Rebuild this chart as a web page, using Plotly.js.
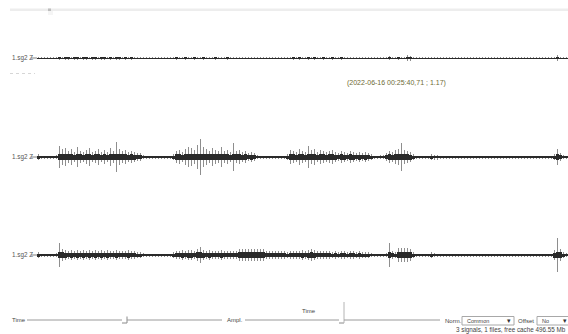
<!DOCTYPE html>
<html>
<head>
<meta charset="utf-8">
<script src="https://cdn.plot.ly/plotly-3.0.1.min.js"></script>
<style>
  html, body { margin: 0; padding: 0; background: #ffffff; }
  #plot { width: 568px; height: 334px; }
</style>
</head>
<body>
<div id="plot"></div>
<script>
// Station / channel names
const channelLabels = ['1.sg2 Z', '1.sg2 Z', '1.sg2 Z'];

// Peak amplitude envelope per time bin (bin = 1/177 of the window), one array per channel
const ampCh1 = [
  1, 0.6, 0.6, 0.6, 0.6, 0.6, 1, 1.5, 1, 1.5,
  1.5, 1, 1.5, 1.5, 1, 1.5, 1.5, 1, 1.5, 1.5,
  1, 1.5, 1.5, 1, 1.5, 1, 1.5, 1.5, 1, 1.5,
  1, 1.5, 1, 1, 1, 0.6, 0.6, 0.6, 0.6, 0.6,
  0.6, 0.6, 0.6, 0.6, 0.6, 1, 1.5, 1, 1, 1.5,
  1, 1, 1.5, 1, 1, 1.5, 1, 1, 1, 1.5,
  1, 1, 1, 1.5, 1, 1, 1, 1, 1, 1,
  1, 0.6, 0.6, 0.6, 0.6, 0.6, 0.6, 0.6, 0.6, 0.6,
  0.6, 0.6, 0.6, 0.6, 1, 1.5, 1, 1.5, 1, 1,
  1.5, 1, 1.5, 1, 1, 1.5, 1, 1, 1.5, 1,
  1, 1.5, 1, 1, 1, 1, 1, 1, 1, 1,
  1, 0.6, 0.6, 0.6, 0.6, 0.6, 1, 2, 1, 1,
  1.5, 1, 1, 3, 2.5, 1, 0.6, 0.6, 0.6, 0.6,
  0.6, 1, 0.6, 0.6, 0.6, 0.6, 0.6, 0.6, 0.6, 0.6,
  0.6, 0.6, 1, 0.6, 0.6, 0.6, 0.6, 1, 0.6, 0.6,
  0.6, 0.6, 0.6, 1, 0.6, 0.6, 0.6, 0.6, 1, 0.6,
  0.6, 0.6, 0.6, 0.6, 1, 0.6, 0.6, 0.6, 0.6, 0.6,
  0.6, 0.6, 1, 3, 1, 0.6, 0.6
];

const ampCh2 = [
  3, 1.5, 1.5, 1.5, 1.5, 1.5, 2, 11, 8, 9,
  6, 8, 5, 10, 6, 5, 7, 9, 5, 6,
  8, 5, 7, 5, 9, 6, 15, 8, 6, 7,
  5, 6, 5, 4, 4, 2, 1.5, 1.5, 1.5, 1.5,
  1.5, 1.5, 1.5, 1.5, 1.5, 3, 6, 7, 5, 8,
  10, 9, 7, 12, 18, 10, 8, 6, 9, 7,
  6, 10, 6, 7, 5, 14, 6, 7, 5, 6,
  4, 5, 4, 2, 1.5, 1.5, 1.5, 1.5, 1.5, 1.5,
  1.5, 1.5, 1.5, 3, 7, 6, 5, 8, 6, 5,
  11, 7, 8, 5, 7, 6, 5, 6, 7, 5,
  4, 6, 5, 4, 6, 5, 4, 5, 4, 5,
  4, 3, 1.5, 1.5, 2, 2, 4, 6, 5, 7,
  8, 14, 7, 6, 5, 3, 1.5, 1.5, 1.5, 1.5,
  1.5, 3, 2.5, 2.5, 1.5, 1.5, 1.5, 1.5, 1.5, 1.5,
  1.5, 1.5, 1.5, 1.5, 1.5, 1.5, 1.5, 1.5, 1.5, 1.5,
  1.5, 1.5, 1.5, 1.5, 1.5, 1.5, 1.5, 1.5, 1.5, 1.5,
  1.5, 1.5, 1.5, 1.5, 1.5, 1.5, 1.5, 1.5, 1.5, 1.5,
  1.5, 1.5, 3, 8, 4, 2, 1.5
];

const ampCh3 = [
  3, 1.5, 1.5, 1.5, 1.5, 1.5, 2, 12, 6, 5,
  4, 5, 4, 5, 4, 5, 4, 5, 4, 5,
  4, 5, 4, 5, 4, 4, 5, 4, 4, 4,
  5, 4, 4, 3, 3, 2, 1.5, 1.5, 1.5, 1.5,
  1.5, 1.5, 1.5, 1.5, 1.5, 3, 4, 4, 5, 4,
  5, 5, 4, 6, 8, 5, 4, 5, 4, 4,
  4, 5, 4, 4, 4, 4, 4, 6, 6, 6,
  6, 6, 6, 6, 6, 6, 4, 4, 4, 4,
  4, 4, 4, 3, 4, 4, 4, 4, 5, 4,
  5, 6, 5, 4, 4, 4, 4, 4, 3, 4,
  3, 4, 4, 3, 4, 4, 3, 4, 3, 3,
  3, 2, 1.5, 1.5, 1.5, 1.5, 2, 12, 4, 3,
  7, 7, 7, 7, 6, 3, 1.5, 1.5, 1.5, 1.5,
  1.5, 3, 2, 1.5, 1.5, 1.5, 1.5, 1.5, 1.5, 1.5,
  1.5, 1.5, 1.5, 1.5, 1.5, 1.5, 1.5, 1.5, 1.5, 1.5,
  1.5, 1.5, 1.5, 1.5, 1.5, 1.5, 1.5, 1.5, 1.5, 1.5,
  1.5, 1.5, 1.5, 1.5, 1.5, 1.5, 1.5, 1.5, 1.5, 1.5,
  1.5, 1.5, 5, 17, 6, 3, 2
];

// Cursor read-out
const cursorText = '(2022-06-16 00:25:40,71 ; 1.17)';

// Control strip texts
const statusText = '3 signals, 1 files, free cache 496.55 Mb';
const normOption = 'Common';
const offsetOption = 'No';

const W = 568, H = 334;
const px = x => x / W;
const py = y => 1 - y / H;

// Trace rows: vertical centre (px), min / max half-width of the dark core
const rows = [
  { amp: ampCh1, yc: 58,  coreMin: 0.5, coreMax: 0.8, axis: 'y'  },
  { amp: ampCh2, yc: 157, coreMin: 1.2, coreMax: 2.6, axis: 'y2' },
  { amp: ampCh3, yc: 255, coreMin: 1.2, coreMax: 3.4, axis: 'y3' }
];
const halfRow = 25;           // amplitude units shown above/below each trace
const nBins = ampCh2.length;
const xBins = ampCh2.map((_, i) => i);

const traces = [];
rows.forEach(r => {
  // single-sample excursions (lighter grey)
  traces.push({
    type: 'bar', x: xBins, y: r.amp.map(a => 2 * a), base: r.amp.map(a => -a),
    width: 0.45, yaxis: r.axis, hoverinfo: 'skip', showlegend: false,
    marker: { color: '#8e8e8e', line: { width: 0 } }
  });
  // dense body of the trace (dark)
  const c = r.amp.map(a => Math.min(a, Math.max(r.coreMin, Math.min(a * 0.5, r.coreMax))));
  traces.push({
    type: 'bar', x: xBins, y: c.map(a => 2 * a), base: c.map(a => -a),
    width: 1.0, yaxis: r.axis, hoverinfo: 'skip', showlegend: false,
    marker: { color: '#2a2a2a', line: { width: 0 } }
  });
});

const dom = yc => [py(yc + halfRow), py(yc - halfRow)];
const hidden = { visible: false, showgrid: false, zeroline: false, fixedrange: true };

const FAMILY = 'Liberation Sans, Arial, sans-serif';
const font = (size, color) => ({ family: FAMILY, size, color: color || '#3f3f3f' });
const annotations = [];
const shapes = [];
const txt = (text, x, y, f, extra) => annotations.push(Object.assign({
  text, x: px(x), y: py(y), xref: 'paper', yref: 'paper', xanchor: 'left', yanchor: 'middle',
  showarrow: false, font: f || font(6)
}, extra || {}));
const line = (x0, y0, x1, y1, color, width, dash) => shapes.push({
  type: 'line', xref: 'paper', yref: 'paper', x0: px(x0), y0: py(y0), x1: px(x1), y1: py(y1),
  line: { color, width, dash: dash || 'solid' }
});
const rect = (x0, y0, x1, y1, fill, border) => shapes.push({
  type: 'rect', xref: 'paper', yref: 'paper', x0: px(x0), y0: py(y0), x1: px(x1), y1: py(y1),
  fillcolor: fill, line: { color: border || fill, width: border ? 1 : 0 }, layer: 'below'
});

// horizontal scroll strip at the top
rect(10, 8.5, 568, 11, '#ededed');
rect(48, 8.5, 51, 11, '#bdbdbd');
rect(48, 11, 53, 15, '#f5f5f5');

// channel labels with leader ticks
rows.forEach((r, k) => {
  txt(channelLabels[k], 10, r.yc, font(6.3, '#555555'));
  line(31, r.yc, 37, r.yc, '#808080', 1);
});
// selection marker under the first channel
line(10, 73.5, 35, 73.5, '#d6d6d6', 1, 'dot');

// cursor read-out
txt(cursorText, 345, 83, font(7, '#6d6a33'));

// bottom controls: time slider
txt('Time', 10, 320);
line(27, 320, 122, 320, '#9a9a9a', 1);
line(122, 323, 127, 323, '#8a8a8a', 1);
line(127, 316.5, 127, 323, '#8a8a8a', 1);
line(127, 320, 222, 320, '#9a9a9a', 1);

// amplitude slider
txt('Ampl.', 225, 320);
line(245, 320, 339, 320, '#9a9a9a', 1);
line(339, 323, 344, 323, '#8a8a8a', 1);
line(344, 302, 344, 323, '#b4b4b4', 1);
line(344, 320, 440, 320, '#9a9a9a', 1);
txt('Time', 300, 311);

// normalisation / offset selectors
txt('Norm.', 443, 320.5);
rect(462, 316.5, 514, 325, '#ffffff', '#a8a8a8');
txt(normOption, 465, 320.8, font(5.5));
txt('\u25BE', 505, 320.5, font(7, '#333333'));
txt('Offset', 516, 320.5);
rect(537, 316.5, 569, 325, '#ffffff', '#a8a8a8');
txt(offsetOption, 540, 320.8, font(5.5));
txt('\u25BE', 561, 320.5, font(7, '#333333'));

// status line
txt(statusText, 568, 329.5, font(6.3), { xanchor: 'right' });

const layout = {
  width: W, height: H,
  margin: { l: 0, r: 0, t: 0, b: 0, pad: 0 },
  paper_bgcolor: '#ffffff', plot_bgcolor: 'rgba(0,0,0,0)',
  barmode: 'overlay', bargap: 0, showlegend: false,
  xaxis: Object.assign({ domain: [px(37), 1], range: [-0.5, nBins - 0.5] }, hidden),
  yaxis:  Object.assign({ domain: dom(rows[0].yc), range: [-halfRow, halfRow], anchor: 'x' }, hidden),
  yaxis2: Object.assign({ domain: dom(rows[1].yc), range: [-halfRow, halfRow], anchor: 'x' }, hidden),
  yaxis3: Object.assign({ domain: dom(rows[2].yc), range: [-halfRow, halfRow], anchor: 'x' }, hidden),
  annotations, shapes
};

Plotly.newPlot('plot', traces, layout, { staticPlot: true, displayModeBar: false });
</script>
</body>
</html>
